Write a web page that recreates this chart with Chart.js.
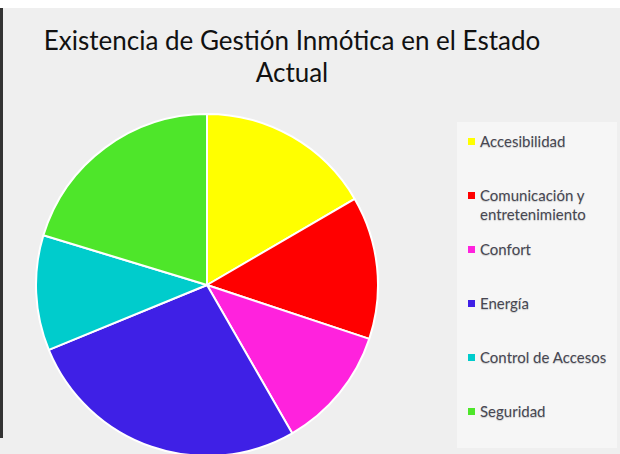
<!DOCTYPE html>
<html lang="es">
<head>
<meta charset="utf-8">
<script src="https://cdn.jsdelivr.net/npm/chart.js@4.4.1/dist/chart.umd.min.js"></script>
<style>
  html, body { margin: 0; padding: 0; width: 620px; height: 454px; overflow: hidden; background: #ffffff; }
  #hoja { position: absolute; left: 0; top: 8px; width: 620px; height: 446px; background: #efefef; }
  #borde { position: absolute; left: 0; top: 8px; width: 3px; height: 430px; background: #333333; }
  #titulo { position: absolute; left: 0; top: 24px; width: 584px; text-align: center; margin: 0;
            font: 400 26px Lato, "Open Sans", sans-serif; line-height: 32px; color: #111111; }
  #pastel { position: absolute; left: 35px; top: 113px; width: 344px; height: 344px; }
  #leyenda { position: absolute; left: 457px; top: 122px; width: 160px; height: 326px; background: #f6f6f6;
             margin: 0; padding: 10px 0 0 0; box-sizing: border-box; list-style: none; }
  #leyenda li { height: 54px; position: relative; padding-left: 23px; width: 132px;
                font: 400 15px Lato, "Open Sans", sans-serif; line-height: 19px; color: #474752;
                text-shadow: 0 1px 1px rgba(0,0,0,.18); }
  #leyenda li span.cuadro { position: absolute; left: 11px; top: 6px; width: 7px; height: 7px; }
</style>
</head>
<body>
<div id="hoja"></div>
<div id="borde"></div>
<h1 id="titulo">Existencia de Gestión Inmótica en el Estado<br>Actual</h1>
<div id="pastel"><canvas id="grafico"></canvas></div>
<ul id="leyenda"></ul>
<script>
// porcentajes (sentido horario desde las 12)
const categorias = ['Accesibilidad', 'Comunicación y entretenimiento', 'Confort', 'Energía', 'Control de Accesos', 'Seguridad'];
const valores = [16.6, 13.5, 11.6, 27.1, 10.9, 20.3];
const colores = ['#ffff00', '#ff0000', '#ff22dd', '#3f20e6', '#00cccc', '#4ee62a'];

const chart = new Chart(document.getElementById('grafico'), {
  type: 'pie',
  data: { labels: categorias, datasets: [{ data: valores, backgroundColor: colores, borderColor: '#ffffff', borderWidth: 2 }] },
  options: {
    responsive: true, maintainAspectRatio: false, animation: false,
    layout: { padding: 0 },
    plugins: { legend: { display: false }, title: { display: false }, tooltip: { enabled: false } }
  }
});

// leyenda en HTML a partir de los mismos datos del gráfico
const ul = document.getElementById('leyenda');
chart.data.labels.forEach((lab, i) => {
  const li = document.createElement('li');
  li.innerHTML = `<span class="cuadro" style="background:${chart.data.datasets[0].backgroundColor[i]}"></span>${lab}`;
  ul.appendChild(li);
});
</script>
</body>
</html>
